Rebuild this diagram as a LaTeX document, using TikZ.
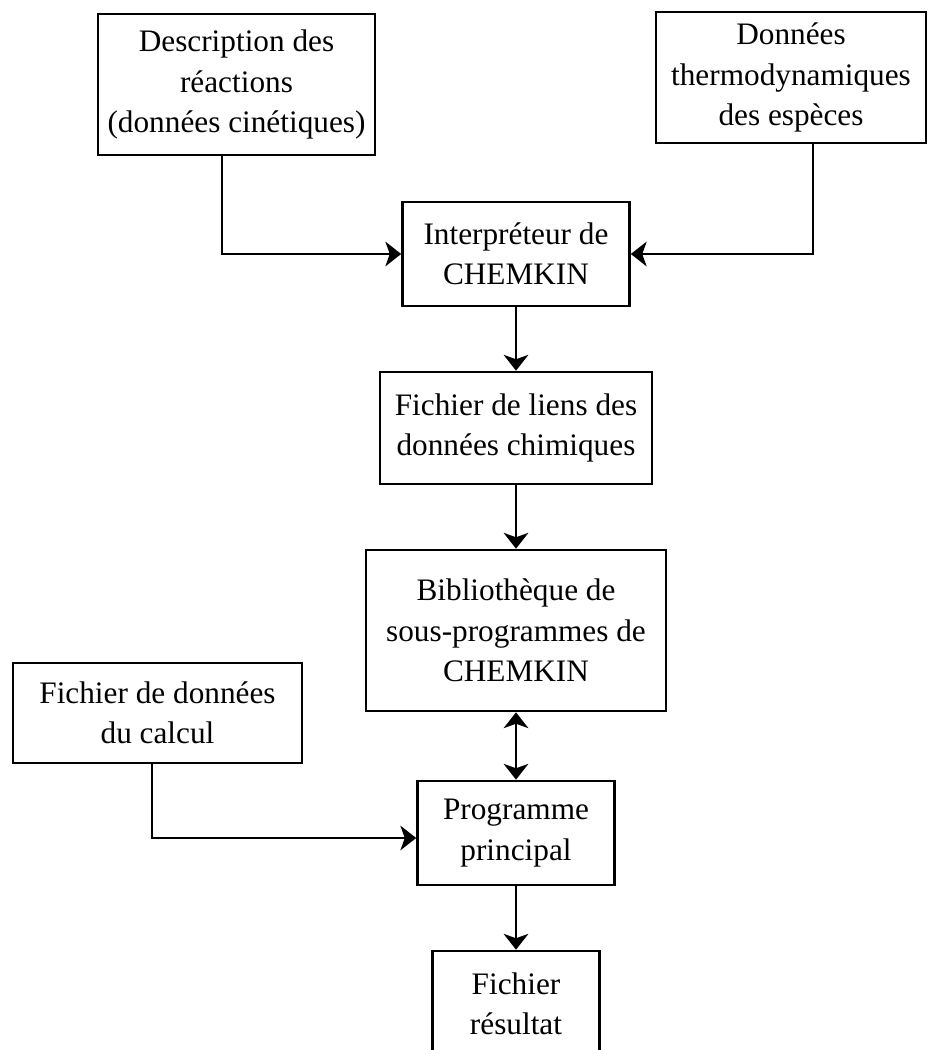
\documentclass[tikz,border=0pt]{standalone}
\usepackage{fontspec}
\setmainfont{Liberation Serif}
\usetikzlibrary{calc,arrows.meta}

\tikzset{
  bloc/.style={draw,line width=1.5pt,align=center,inner sep=0pt,
    font=\fontsize{17.8}{23}\selectfont},
  fleche/.style={line width=1.3pt,->},
  fleches/.style={line width=1.3pt,<->}
}

\begin{document}
\begin{tikzpicture}[x=0.02cm,y=-0.02cm,>={Stealth[length=9pt,width=14pt,inset=2.5pt]}]
\useasboundingbox (0,0) rectangle (929,1050);
\clip (0,0) rectangle (929,1050);

% entrees
\node[bloc,minimum width=5.54cm,minimum height=2.82cm] (desc) at (236.5,84.5) {Description des\\réactions\\(données cinétiques)};
\node[bloc,minimum width=5.40cm,minimum height=2.62cm] (thermo) at (791,77.5) {Données\\thermodynamiques\\des espèces};

% chaine centrale
\node[bloc,minimum width=4.54cm,minimum height=2.08cm] (interp) at (516,254) {Interpréteur de\\CHEMKIN};
\node[bloc,minimum width=5.44cm,minimum height=2.24cm] (liens) at (516,428) {Fichier de liens des\\données chimiques};
\node[bloc,minimum width=6.00cm,minimum height=3.22cm] (biblio) at (516,630.5) {Bibliothèque de\\sous-programmes de\\CHEMKIN};
\node[bloc,minimum width=5.78cm,minimum height=2.00cm] (calcul) at (157.5,713) {Fichier de données\\du calcul};
\node[bloc,minimum width=3.94cm,minimum height=2.08cm] (prog) at (516,833) {Programme\\principal};
\node[bloc,minimum width=3.34cm,minimum height=2.10cm] (result) at (516,1003.5) {Fichier\\résultat};

% liaisons
\draw[fleche] ([xshift=-0.29cm]desc.south) |- (interp.west);
\draw[fleche] ([xshift=0.44cm]thermo.south) |- (interp.east);
\draw[fleche] (interp) -- (liens);
\draw[fleche] (liens) -- (biblio);
\draw[fleches] (biblio) -- (prog);
\draw[fleche] ([xshift=-0.11cm]calcul.south) |- ([yshift=-0.1cm]prog.west);
\draw[fleche] (prog) -- (result);
\end{tikzpicture}
\end{document}
